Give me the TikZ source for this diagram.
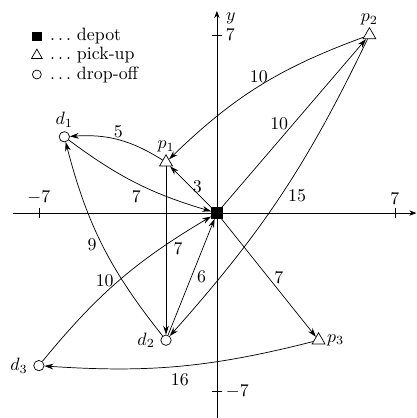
\documentclass[tikz,border=0pt]{standalone}
\usetikzlibrary{arrows.meta,shapes.geometric}
\begin{document}
\begin{tikzpicture}[x=0.5cm,y=0.5cm,
  depotnode/.style={draw,fill=black,minimum size=6pt,inner sep=0pt},
  pick/.style={draw,fill=white,regular polygon,regular polygon sides=3,minimum size=8.3pt,inner sep=0pt},
  drop/.style={draw,fill=white,circle,minimum size=5.8pt,inner sep=0pt},
  edge/.style={-{Stealth[length=5pt,width=3.2pt]}},
  wt/.style={inner sep=1pt},
  axis/.style={-{Stealth[length=4pt,width=3pt]}},
  lgtext/.style={anchor=west,inner sep=0pt},
]
\useasboundingbox (-8.53,-8.06) rectangle (7.86,8.38);
% axes
\draw[axis] (-8,0) -- (7.85,0) coordinate (xend);
\node[anchor=west,inner sep=1pt] (xlab) at (xend) {$x$};
\draw[axis] (0,-8.1) -- (0,7.95) coordinate (yend);
\node (ylab) at (0.55,7.67) {$y$};
\foreach \t in {-7,7}{
  \draw (\t,-0.2) -- (\t,0.2);
  \draw (-0.2,\t) -- (0.2,\t);
}
\node[above,inner sep=2pt] (tx1) at (-7,0.2) {$-7$};
\node[above,inner sep=2pt] (tx2) at (7,0.2) {$7$};
\node[right,inner sep=2pt] (ty1) at (0.2,7) {$7$};
\node[right,inner sep=2pt] (ty2) at (0.2,-7) {$-7$};
% legend
\node[depotnode,minimum size=5pt] (l1) at (-7.08,6.95) {};
\node[lgtext] (l1t) at (-6.57,6.95) {$\ldots$ depot};
\node[pick,minimum size=7pt] (l2) at (-7.08,6.2) {};
\node[lgtext] (l2t) at (-6.57,6.2) {$\ldots$ pick-up};
\node[drop,minimum size=5pt] (l3) at (-7.08,5.45) {};
\node[lgtext] (l3t) at (-6.57,5.45) {$\ldots$ drop-off};
% nodes
\node[depotnode] (dep) at (0,0) {};
\node[pick,label={[inner sep=1pt]above:$p_1$}] (p1) at (-2,2) {};
\node[pick,label={[inner sep=1pt]above:$p_2$}] (p2) at (6,7) {};
\node[pick,label={[inner sep=2pt]right:$p_3$}] (p3) at (4,-5) {};
\node[drop,label={[inner sep=2pt]above:$d_1$}] (d1) at (-6,3) {};
\node[drop,label={[inner sep=3pt]left:$d_2$}] (d2) at (-2,-5) {};
\node[drop,label={[inner sep=3pt]left:$d_3$}] (d3) at (-7,-6) {};
% edges
\draw[edge] (dep) -- node[wt,right] {3} (p1);
\draw[edge] (p1) to[bend right=18] node[wt,above] {5} (d1);
\draw[edge] (d1) to[bend right=10] node[wt,below,yshift=-3pt] {7} (dep);
\draw[edge] (p1) -- node[wt,right,xshift=3pt,yshift=1pt] {7} (d2);
\draw[edge] (d2) -- node[wt,right,xshift=2pt] {6} (dep);
\draw[edge] (d2) to[bend left=12] node[wt,left,xshift=-2pt] {9} (d1);
\draw[edge] (p2) to[bend right=12] node[wt,above,yshift=1pt] {10} (p1);
\draw[edge] (dep) -- node[wt,left,xshift=-2pt] {10} (p2);
\draw[edge] (p2) to[bend left=8] node[wt,right,xshift=3pt] {15} (d2);
\draw[edge] (dep) -- node[wt,right,xshift=2pt] {7} (p3);
\draw[edge] (p3) to[bend left=9] node[wt,below,yshift=-3pt] {16} (d3);
\draw[edge] (d3) to[bend left=10] node[wt,left,xshift=-2pt] {10} (dep);
\end{tikzpicture}
\end{document}
